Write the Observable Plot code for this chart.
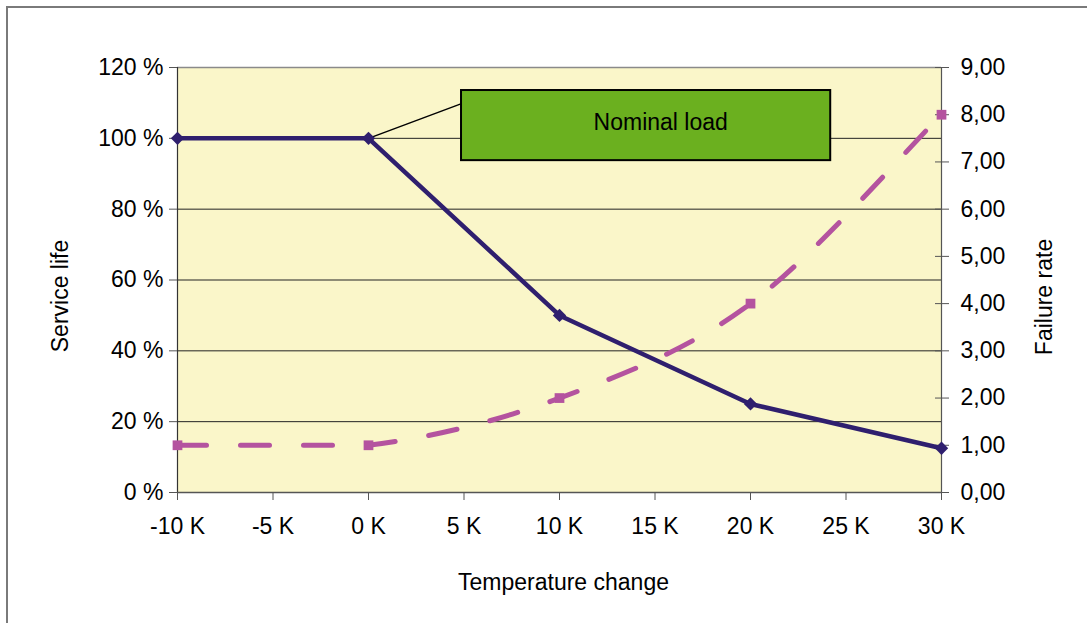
<!DOCTYPE html>
<html><head><meta charset="utf-8">
<script src="https://cdn.jsdelivr.net/npm/d3@7"></script>
<script src="https://cdn.jsdelivr.net/npm/@observablehq/plot@0.6"></script>
<style>
body{margin:0;background:#fff;}
#wrap{position:relative;width:1087px;height:623px;overflow:hidden;}
#border{position:absolute;left:6px;top:6px;width:2000px;height:2000px;border-left:2px solid #7a7a7a;border-top:2px solid #7a7a7a;}
#chart{position:absolute;left:0;top:0;}
</style></head><body>
<div id="wrap"><div id="border"></div><div id="chart"></div></div>
<script>
const temps = [-10, 0, 10, 20, 30];
const serviceLife = [100, 100, 50, 25, 12.5];
const failureRate = [1, 1, 2, 4, 8];
const xTicks = [-10, -5, 0, 5, 10, 15, 20, 25, 30];
const leftTicks = [0, 20, 40, 60, 80, 100, 120];
const rightTicks = [0, 1, 2, 3, 4, 5, 6, 7, 8, 9];
const annotation = [{label: "Nominal load", x: 0, y: 100, lx: 4.87, ly: 109.8, x1: 4.87, x2: 24.2, y1: 93.7, y2: 113.5, tx: 15.3, ty: 104.3}];
const titles = {x: "Temperature change", left: "Service life", right: "Failure rate"};

const RMAX = 9, LMAX = 120;
const toLeft = v => v * LMAX / RMAX;
const life = temps.map((t, i) => ({t, v: serviceLife[i]}));
const fail = temps.map((t, i) => ({t, v: toLeft(failureRate[i])}));

const navy = "#2f1f6e", pink = "#b4539f";

// Spreadsheet-style smoothing: Bezier through the points, straight where flat
function smoothCurve(context) {
  let pts;
  return {
    areaStart() {}, areaEnd() {},
    lineStart() { pts = []; },
    point(x, y) { pts.push([+x, +y]); },
    lineEnd() {
      const n = pts.length;
      if (!n) return;
      context.moveTo(pts[0][0], pts[0][1]);
      for (let i = 0; i < n - 1; i++) {
        const p0 = pts[Math.max(i - 1, 0)], p1 = pts[i], p2 = pts[i + 1], p3 = pts[Math.min(i + 2, n - 1)];
        if (Math.abs(p1[1] - p2[1]) < 1e-6) { context.lineTo(p2[0], p2[1]); continue; }
        const c1 = [p1[0] + (p2[0] - p0[0]) / 6, p1[1] + (p2[1] - p0[1]) / 6];
        const c2 = [p2[0] - (p3[0] - p1[0]) / 6, p2[1] - (p3[1] - p1[1]) / 6];
        context.bezierCurveTo(c1[0], c1[1], c2[0], c2[1], p2[0], p2[1]);
      }
    }
  };
}

const chart = Plot.plot({
  width: 1087, height: 623,
  marginLeft: 177, marginRight: 146, marginTop: 67, marginBottom: 131,
  style: {fontFamily: "'Liberation Sans', Arial, sans-serif", fontSize: "23px", color: "#000", background: "transparent"},
  x: {domain: [-10, 30]},
  y: {domain: [0, 120]},
  marks: [
    Plot.frame({fill: "#faf6c9", stroke: null}),
    Plot.ruleY(leftTicks.filter(d => d > 0 && d < 120), {stroke: "#222", strokeWidth: 1}),
    Plot.ruleY([120], {stroke: "#8a8a8a", strokeWidth: 1.5}),
    Plot.ruleX([-10], {stroke: "#333", strokeWidth: 1.2}),
    Plot.ruleX([30], {stroke: "#555", strokeWidth: 1.2}),
    Plot.ruleY([0], {stroke: "#555", strokeWidth: 1.5}),
    Plot.axisX(xTicks, {tickSize: 8, tickPadding: 17, tickFormat: d => `${d} K`, label: null, stroke: "#555"}),
    Plot.axisY(leftTicks, {anchor: "left", tickSize: 8, tickPadding: 6, tickFormat: d => `${d} %`, label: null, stroke: "#555"}),
    Plot.axisY(rightTicks.map(toLeft), {anchor: "right", tickSize: 14, dx: -7, fill: "none", label: null, stroke: "#555"}),
    Plot.axisY(rightTicks.map(toLeft), {anchor: "right", tickSize: 0, tickPadding: 19, tickFormat: d => (d * RMAX / LMAX).toFixed(2).replace(".", ","), label: null}),
    Plot.text([titles.left], {text: d => d, frameAnchor: "left", textAnchor: "middle", dx: -117, dy: 16, rotate: -90}),
    Plot.text([titles.right], {text: d => d, frameAnchor: "right", textAnchor: "middle", dx: 103, dy: 17, rotate: -90}),
    Plot.text([titles.x], {text: d => d, frameAnchor: "bottom", textAnchor: "middle", dx: 4, dy: 97}),
    Plot.link(annotation, {x1: "x", y1: "y", x2: "lx", y2: "ly", stroke: "#000", strokeWidth: 1.5}),
    Plot.rect(annotation, {x1: "x1", x2: "x2", y1: "y1", y2: "y2", fill: "#6bb01f", stroke: "#000", strokeWidth: 2}),
    Plot.text(annotation, {x: "tx", y: "ty", text: "label", fill: "#000"}),
    Plot.line(fail, {x: "t", y: "v", stroke: pink, strokeWidth: 5, strokeDasharray: "29,34", strokeLinecap: "round", curve: smoothCurve}),
    Plot.dot(fail, {x: "t", y: "v", symbol: "square", r: 5.5, fill: pink}),
    Plot.line(life, {x: "t", y: "v", stroke: navy, strokeWidth: 4.5}),
    Plot.dot(life, {x: "t", y: "v", symbol: "diamond2", r: 6, fill: navy})
  ]
});
document.getElementById("chart").appendChild(chart);
</script>
</body></html>
